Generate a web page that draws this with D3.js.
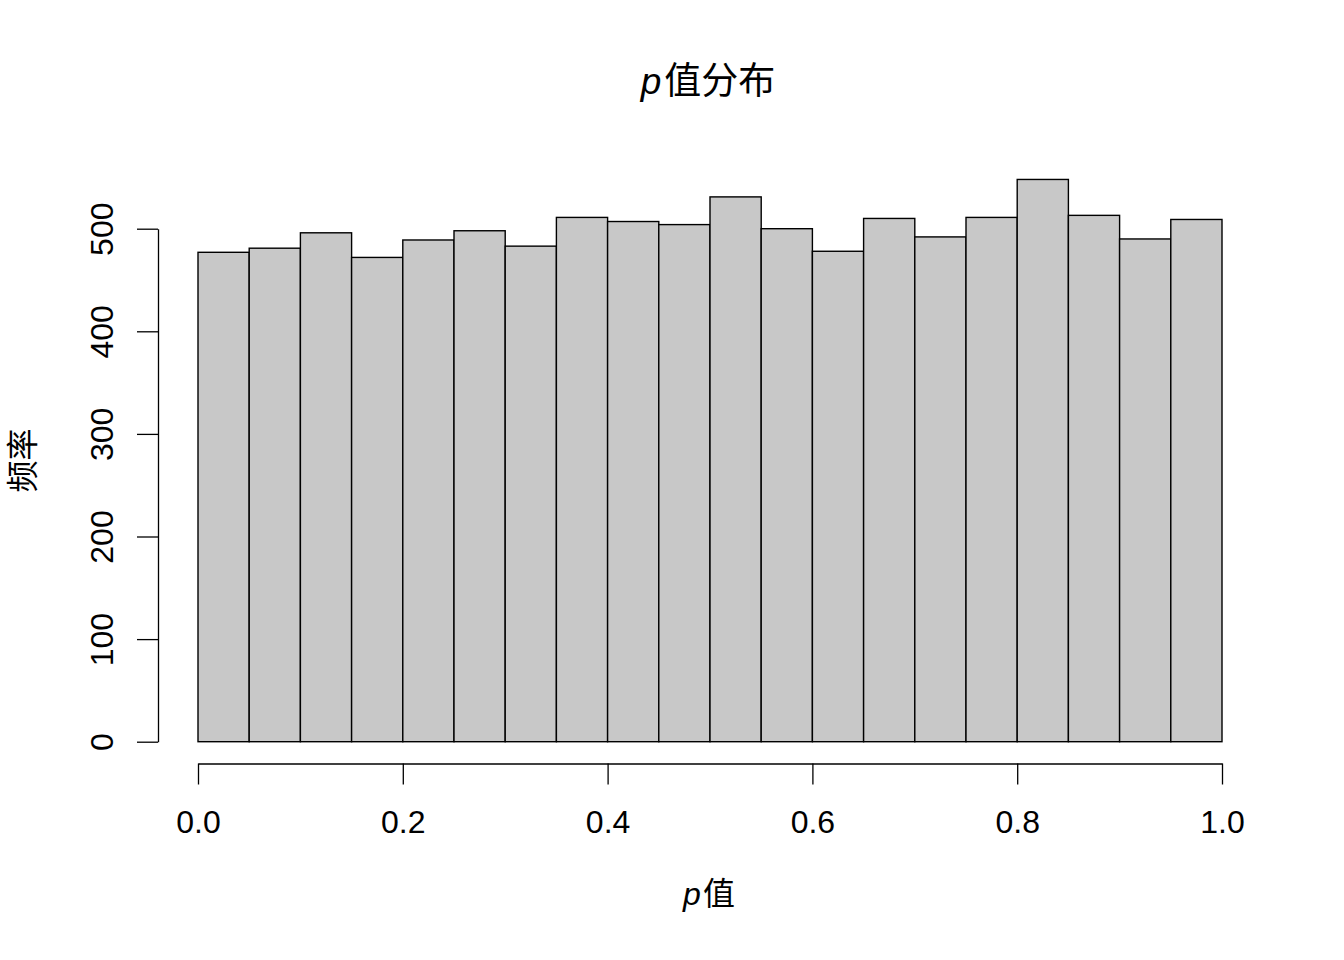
<!DOCTYPE html>
<html lang="zh">
<head>
  <meta charset="UTF-8">
  <title>p值分布</title>
  <script src="https://cdn.jsdelivr.net/npm/d3@7"></script>
  <style>
    body { margin: 0; background: #fff; }
    text { font-family: "Liberation Sans", Arial, "Noto Sans CJK SC", sans-serif; fill: #000; }
  </style>
</head>
<body>
<svg id="chart"></svg>
<script>
  // histogram bins of p values (width 0.05)
  const binStarts = [0, 0.05, 0.1, 0.15, 0.2, 0.25, 0.3, 0.35, 0.4, 0.45,
                     0.5, 0.55, 0.6, 0.65, 0.7, 0.75, 0.8, 0.85, 0.9, 0.95];
  const binWidth = 0.05;
  const counts = [477, 481, 496, 472, 489, 498, 483, 511, 507, 504,
                  531, 500, 478, 510, 492, 511, 548, 513, 490, 509];
  const xTicks = [0, 0.2, 0.4, 0.6, 0.8, 1.0];
  const yTicks = [0, 100, 200, 300, 400, 500];

  const width = 1344, height = 960;
  const fontSize = 32;

  const svg = d3.select('#chart')
    .attr('width', width)
    .attr('height', height);

  const x = d3.scaleLinear().domain([0, 1]).range([198, 1222]);
  const y = d3.scaleLinear().domain([0, 500]).range([741.7, 228.7]);

  // bars
  svg.append('g')
    .selectAll('rect')
    .data(counts)
    .join('rect')
    .attr('x', (d, i) => x(binStarts[i]))
    .attr('y', d => y(d))
    .attr('width', (d, i) => x(binStarts[i] + binWidth) - x(binStarts[i]))
    .attr('height', d => y(0) - y(d))
    .attr('fill', '#c8c8c8')
    .attr('stroke', '#000')
    .attr('stroke-width', 1.4);

  // x axis
  const gx = svg.append('g')
    .attr('transform', 'translate(0,763.5)')
    .call(d3.axisBottom(x)
      .tickValues(xTicks)
      .tickFormat(d3.format('.1f'))
      .tickSize(21)
      .tickSizeOuter(0)
      .tickPadding(26));
  gx.selectAll('path, line').attr('stroke', '#000').attr('stroke-width', 1.3);
  gx.selectAll('text')
    .style('font-size', fontSize + 'px')
    .style('font-family', '"Liberation Sans", Arial, sans-serif');

  // y axis
  const gy = svg.append('g')
    .attr('transform', 'translate(158,0)')
    .call(d3.axisLeft(y)
      .tickValues(yTicks)
      .tickSize(21)
      .tickSizeOuter(0));
  gy.selectAll('path, line').attr('stroke', '#000').attr('stroke-width', 1.3);
  gy.selectAll('text')
    .attr('x', null)
    .attr('dy', null)
    .attr('text-anchor', 'middle')
    .attr('transform', 'translate(-45,0) rotate(-90)')
    .style('font-size', fontSize + 'px')
    .style('font-family', '"Liberation Sans", Arial, sans-serif');

  // title
  const title = svg.append('text')
    .attr('x', 708)
    .attr('y', 94)
    .attr('text-anchor', 'middle')
    .style('font-size', '37px');
  title.append('tspan').style('font-style', 'italic').text('p');
  title.append('tspan').attr('dx', 3).text('值分布');

  // x label
  const xlab = svg.append('text')
    .attr('x', 709)
    .attr('y', 905)
    .attr('text-anchor', 'middle')
    .style('font-size', fontSize + 'px');
  xlab.append('tspan').style('font-style', 'italic').text('p');
  xlab.append('tspan').attr('dx', 2).text('值');

  // y label
  svg.append('text')
    .attr('transform', 'translate(34,460.5) rotate(-90)')
    .attr('text-anchor', 'middle')
    .style('font-size', fontSize + 'px')
    .text('频率');
</script>
</body>
</html>
